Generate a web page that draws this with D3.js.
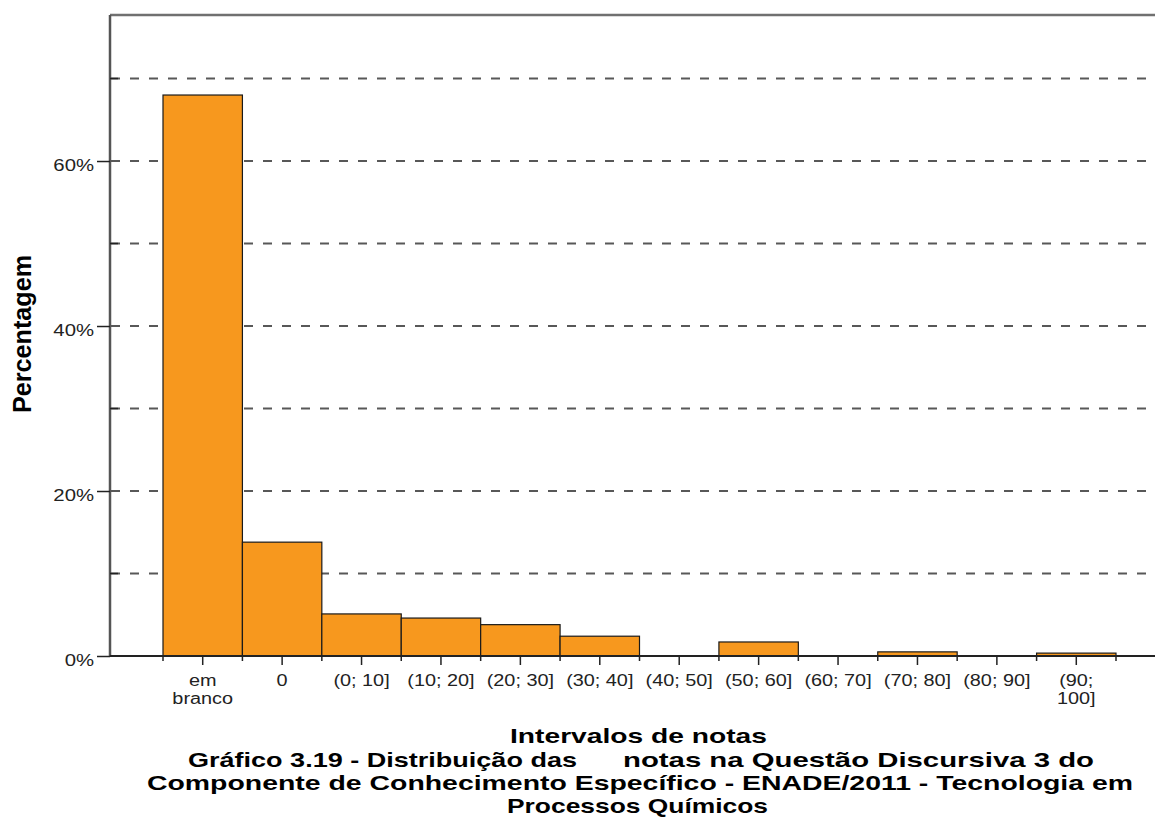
<!DOCTYPE html>
<html>
<head>
<meta charset="utf-8">
<script src="https://cdn.jsdelivr.net/npm/d3@7"></script>
<style>
  body { margin: 0; background: #fff; }
  svg { display: block; }
</style>
</head>
<body>
<div id="viz"></div>
<script>
const categories = ['em branco', '0', '(0; 10]', '(10; 20]', '(20; 30]', '(30; 40]',
  '(40; 50]', '(50; 60]', '(60; 70]', '(70; 80]', '(80; 90]', '(90; 100]'];
const tickLabels = [['em', 'branco'], ['0'], ['(0; 10]'], ['(10; 20]'], ['(20; 30]'], ['(30; 40]'],
  ['(40; 50]'], ['(50; 60]'], ['(60; 70]'], ['(70; 80]'], ['(80; 90]'], ['(90;', '100]']];
const percentages = [68.0, 13.8, 5.1, 4.6, 3.8, 2.4, 0, 1.7, 0, 0.5, 0, 0.35];
const yTicks = [0, 20, 40, 60];
const yMinorTicks = [10, 30, 50, 70];
const gridValues = [10, 20, 30, 40, 50, 60, 70];
const yMax = 77.7;
const xTitle = 'Intervalos de notas';
const yTitle = 'Percentagem';
const captionLines = [
  ['Gráfico 3.19 - Distribuição das', 'notas na Questão Discursiva 3 do'],
  ['Componente de Conhecimento Específico - ENADE/2011 - Tecnologia em'],
  ['Processos Químicos']
];

const width = 1155;
const height = 818;
const plot = {left: 110, right: 1155, top: 15, bottom: 656};
const barsLeft = 163;
const barsRight = 1116;
const sans = 'Liberation Sans, Arial, Helvetica, sans-serif';

const svg = d3.select('#viz')
  .append('svg')
  .attr('width', width)
  .attr('height', height);

const x = d3.scaleBand()
  .domain(categories)
  .range([barsLeft, barsRight])
  .padding(0);

const y = d3.scaleLinear()
  .domain([0, yMax])
  .range([plot.bottom, plot.top]);

// the source picture is stretched sideways, so widen text to match
function stretch(sel, k) {
  sel.each(function() {
    const w = this.getComputedTextLength();
    d3.select(this)
      .attr('textLength', w * k)
      .attr('lengthAdjust', 'spacingAndGlyphs');
  });
}

// dashed grid
svg.append('g')
  .selectAll('line')
  .data(gridValues)
  .enter()
  .append('line')
  .attr('x1', plot.left)
  .attr('x2', plot.right)
  .attr('y1', d => y(d))
  .attr('y2', d => y(d))
  .attr('stroke', '#585858')
  .attr('stroke-width', 2)
  .attr('stroke-dasharray', '9,10')
  .attr('stroke-dashoffset', -1);

// bars
svg.append('g')
  .selectAll('rect')
  .data(categories.map((c, i) => ({c, v: percentages[i]})).filter(d => d.v > 0))
  .enter()
  .append('rect')
  .attr('x', d => x(d.c))
  .attr('y', d => y(d.v))
  .attr('width', x.bandwidth())
  .attr('height', d => y(0) - y(d.v))
  .attr('fill', '#f7981e')
  .attr('stroke', '#1a1a1a')
  .attr('stroke-width', 1.2);

// frame: top border and left axis
svg.append('line')
  .attr('x1', plot.left).attr('x2', plot.right)
  .attr('y1', plot.top).attr('y2', plot.top)
  .attr('stroke', '#707070')
  .attr('stroke-width', 2.5);

svg.append('line')
  .attr('x1', plot.left).attr('x2', plot.left)
  .attr('y1', plot.top).attr('y2', plot.bottom)
  .attr('stroke', '#555')
  .attr('stroke-width', 2.5);

// y axis
const yAxis = svg.append('g')
  .attr('transform', `translate(${plot.left},0)`)
  .call(d3.axisLeft(y).tickValues(yTicks).tickSize(13).tickFormat(d => d + '%'));
yAxis.select('.domain').remove();
yAxis.selectAll('line').attr('stroke', '#222').attr('stroke-width', 1.5);
yAxis.selectAll('text')
  .attr('fill', '#222')
  .attr('dy', '0.6em')
  .style('font-family', sans)
  .style('font-size', '16px')
  .call(stretch, 1.27);

svg.append('g')
  .selectAll('line')
  .data(yMinorTicks)
  .enter()
  .append('line')
  .attr('x1', plot.left)
  .attr('x2', plot.left + 8)
  .attr('y1', d => y(d))
  .attr('y2', d => y(d))
  .attr('stroke', '#222')
  .attr('stroke-width', 1.5);

// x axis baseline
svg.append('line')
  .attr('x1', plot.left).attr('x2', plot.right)
  .attr('y1', plot.bottom).attr('y2', plot.bottom)
  .attr('stroke', '#222')
  .attr('stroke-width', 1.8);

const xAxis = svg.append('g')
  .attr('transform', `translate(0,${plot.bottom})`)
  .call(d3.axisBottom(x).tickSize(9).tickFormat(''));
xAxis.select('.domain').remove();
xAxis.selectAll('line').attr('stroke', '#222').attr('stroke-width', 1.5);

// short ticks on the band edges
const edges = categories.map(c => x(c)).concat([x(categories[categories.length - 1]) + x.bandwidth()]);
svg.append('g')
  .selectAll('line')
  .data(edges)
  .enter()
  .append('line')
  .attr('x1', d => d)
  .attr('x2', d => d)
  .attr('y1', plot.bottom)
  .attr('y2', plot.bottom + 5)
  .attr('stroke', '#222')
  .attr('stroke-width', 1.5);

// x tick labels, one text per line
const labelG = svg.append('g')
  .style('font-family', sans)
  .style('font-size', '16px')
  .attr('fill', '#222')
  .attr('text-anchor', 'middle');
categories.forEach((c, i) => {
  tickLabels[i].forEach((line, j) => {
    labelG.append('text')
      .attr('x', x(c) + x.bandwidth() / 2)
      .attr('y', 686 + j * 18)
      .text(line);
  });
});
labelG.selectAll('text').call(stretch, 1.24);

// y title
svg.append('text')
  .attr('transform', 'translate(31,334) scale(1.25,1) rotate(-90)')
  .attr('text-anchor', 'middle')
  .style('font-family', sans)
  .style('font-weight', 'bold')
  .style('font-size', '20px')
  .attr('textLength', 158)
  .attr('lengthAdjust', 'spacingAndGlyphs')
  .text(yTitle);

// x title and caption
const titleG = svg.append('g')
  .style('font-family', sans)
  .style('font-weight', 'bold')
  .style('font-size', '20.5px')
  .attr('fill', '#000');

const titleRows = [
  {text: xTitle, y: 743, x0: 510, w: 257},
  {text: captionLines[0][0], y: 766.5, x0: 188, w: 389},
  {text: captionLines[0][1], y: 766.5, x0: 623, w: 471},
  {text: captionLines[1][0], y: 790, x0: 147, w: 986},
  {text: captionLines[2][0], y: 813, x0: 507, w: 261}
];
titleRows.forEach(r => {
  titleG.append('text')
    .attr('x', r.x0)
    .attr('y', r.y)
    .attr('textLength', r.w)
    .attr('lengthAdjust', 'spacingAndGlyphs')
    .text(r.text);
});
</script>
</body>
</html>
